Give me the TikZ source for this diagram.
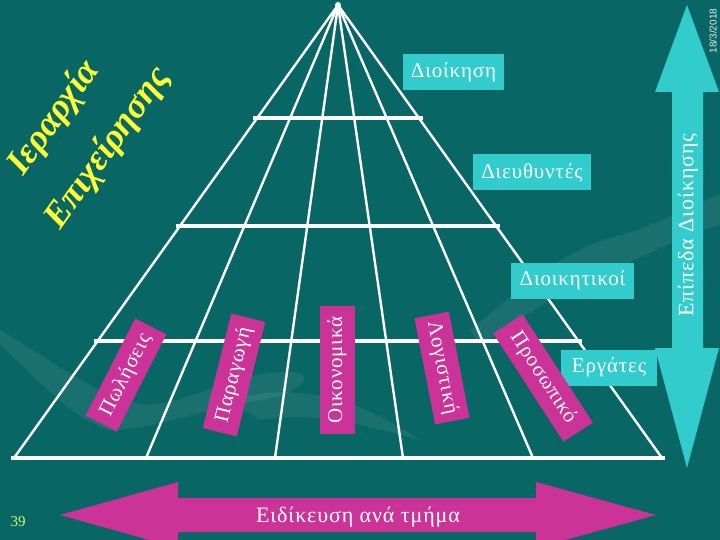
\documentclass[tikz,border=0pt]{standalone}
\usepackage{fontspec}
\setmainfont{Liberation Serif}
\newfontfamily\datefont{Liberation Sans}
\newfontfamily\widefont[LetterSpace=4]{Liberation Serif}
\usetikzlibrary{calc}
\definecolor{bg}{RGB}{8,102,100}
\definecolor{cy}{RGB}{51,204,204}
\definecolor{mg}{RGB}{204,51,153}
\definecolor{yl}{RGB}{255,255,51}
\definecolor{numc}{RGB}{204,255,102}
\begin{document}
\begin{tikzpicture}[x=1pt,y=-1pt,
  lvl/.style={fill=cy,text=white,font=\widefont\fontsize{21}{21}\selectfont,inner sep=0pt,minimum height=36pt},
  dept/.style={fill=mg,text=white,font=\widefont\fontsize{21}{21}\selectfont,inner sep=0pt,minimum height=35pt},
  ray/.style={draw=white,line width=2.4pt},
  bar/.style={draw=white,line width=4.5pt},
  swoosh/.style={fill=white,fill opacity=0.07,draw=none},
  title/.style={text=yl,font=\fontsize{36}{36}\selectfont\bfseries\itshape,inner sep=0pt}]
\fill[bg] (0,0) rectangle (720,540);
\useasboundingbox (0,0) rectangle (720,540);
% faint background swooshes
\path[swoosh] (0,330) .. controls (60,365) and (100,400) .. (150,405)
  .. controls (200,400) and (230,372) .. (290,372)
  .. controls (320,372) and (300,395) .. (260,400)
  .. controls (200,410) and (150,430) .. (110,430)
  .. controls (70,420) and (30,370) .. (0,345) -- cycle;
\path[swoosh] (470,330) .. controls (520,290) and (560,250) .. (620,235)
  .. controls (660,225) and (700,200) .. (720,195) -- (720,225)
  .. controls (680,235) and (640,260) .. (600,275)
  .. controls (560,290) and (520,320) .. (480,345) -- cycle;
\path[swoosh] (230,400) .. controls (300,380) and (360,400) .. (420,440)
  .. controls (380,430) and (320,410) .. (260,420) -- cycle;
% pyramid
\coordinate (apex) at (338,5);
\coordinate (b0) at (14,458);
\coordinate (b1) at (146,458);
\coordinate (b2) at (275,458);
\coordinate (b3) at (403,458);
\coordinate (b4) at (533,458);
\coordinate (b5) at (662,458);
\foreach \b in {b0,b1,b2,b3,b4,b5} \draw[ray] (apex) -- (\b);
\foreach \t in {0.2494,0.4879,0.7417}
  \draw[bar] ($(apex)!\t!(b0)+(-4,0)$) -- ($(apex)!\t!(b5)+(4,0)$);
\draw[bar] ($(b0)+(-3,0)$) -- ($(b5)+(3,0)$);
\fill[white] (apex) circle (3pt);
% level labels
\node[lvl,minimum width=101pt] (l1) at (453.5,72) {Διοίκηση};
\node[lvl,minimum width=118pt] (l2) at (532,172.5) {Διευθυντές};
\node[lvl,minimum width=123pt] (l3) at (572.5,280.5) {Διοικητικοί};
\node[lvl,minimum width=96pt] (l4) at (609,367.5) {Εργάτες};
% department labels
\node[dept,minimum width=109pt,rotate=63] (d1) at (126,375) {Πωλήσεις};
\node[dept,minimum width=118pt,rotate=76] (d2) at (234,375) {Παραγωγή};
\node[dept,minimum width=128pt,rotate=90] (d3) at (337,370) {Οικονομικά};
\node[dept,minimum width=108pt,rotate=-79] (d4) at (442,368) {Λογιστική};
\node[dept,minimum width=129pt,rotate=-57] (d5) at (543,378) {Προσωπικό};
% right double arrow
\fill[cy] (687,5) -- (719,92) -- (703,92) -- (703,348) -- (719,348) -- (687,468)
  -- (655,348) -- (672,348) -- (672,92) -- (655,92) -- cycle;
\node[text=white,font=\widefont\fontsize{22}{22}\selectfont,rotate=90,inner sep=0pt] (lv) at (688,225) {Επίπεδα Διοίκησης};
% bottom double arrow
\fill[mg] (60,515) -- (178,482) -- (178,498) -- (536,498) -- (536,482) -- (656,515)
  -- (536,548) -- (536,532) -- (178,532) -- (178,548) -- cycle;
\node[text=white,font=\widefont\fontsize{22}{22}\selectfont,inner sep=0pt] (sp) at (358,517) {Ειδίκευση ανά τμήμα};
% titles
\node[title,rotate=54.5] (t1) at (54,118) {Ιεραρχία};
\node[title,rotate=54.5] (t2) at (108,148) {Επιχείρησης};
% date and page number
\node[text=white!85!gray,font=\datefont\fontsize{10}{10}\selectfont,rotate=90,inner sep=0pt] (dt) at (713,31) {18/3/2018};
\node[text=numc,font=\fontsize{15}{15}\selectfont,inner sep=0pt] (pg) at (18,522) {39};
\end{tikzpicture}
\end{document}
